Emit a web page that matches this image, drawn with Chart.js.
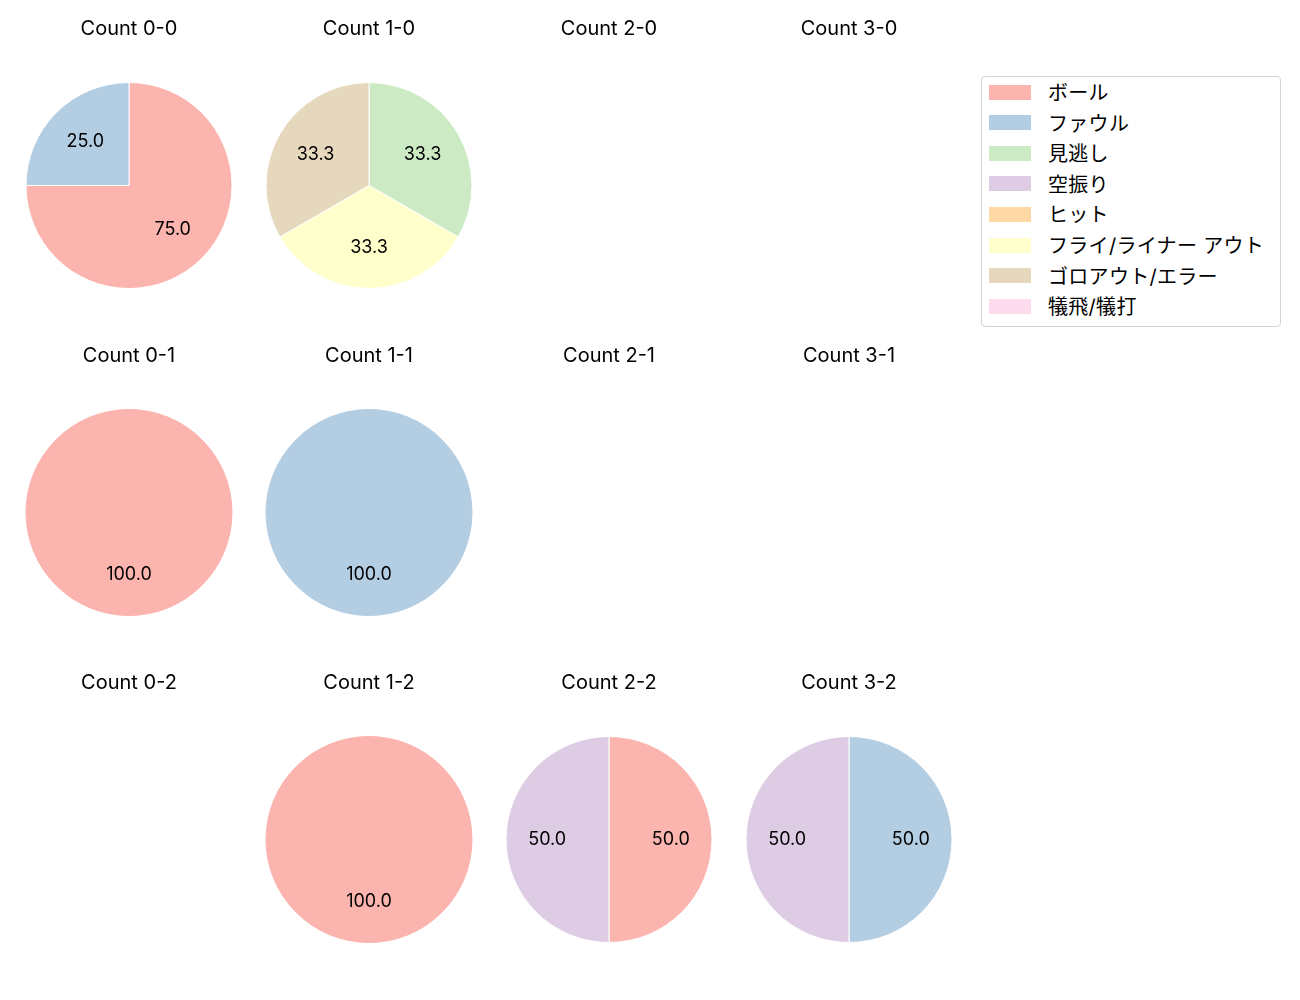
<!DOCTYPE html>
<html>
<head>
<meta charset="utf-8">
<script src="https://cdn.jsdelivr.net/npm/chart.js@4.4.0/dist/chart.umd.min.js"></script>
<style>
  html, body { margin: 0; padding: 0; background: #fff; }
  body { width: 1300px; height: 1000px; position: relative; overflow: hidden; font-family: Inter, "Noto Sans CJK JP", sans-serif; }
  .cell { position: absolute; width: 240px; height: 290px; }
  #legend { position: absolute; left: 981px; top: 76px; width: 298px; height: 249px; border: 1px solid #d3d3d3; border-radius: 4px; background: rgba(255,255,255,0.8); }
  .li { position: absolute; left: 0; height: 30px; width: 298px; }
  .sw { position: absolute; left: 7px; width: 42px; height: 15px; }
  .lt { position: absolute; left: 66px; font-size: 20px; color: #000; white-space: nowrap; line-height: 1; letter-spacing: 0.3px; }
</style>
</head>
<body>
<div id="legend"></div>
<script>
// Categories (legend order) and Pastel1 colours
const categories = ["ボール", "ファウル", "見逃し", "空振り", "ヒット", "フライ/ライナー アウト", "ゴロアウト/エラー", "犠飛/犠打"];
const colors = ["#fbb4ae", "#b3cde3", "#ccebc5", "#decbe4", "#fed9a6", "#ffffcc", "#e5d8bd", "#fddaec"];

// Counts per category for each ball-strike count (same order as categories)
const count00 = [3, 1, 0, 0, 0, 0, 0, 0];
const count10 = [0, 0, 1, 0, 0, 1, 1, 0];
const count20 = [0, 0, 0, 0, 0, 0, 0, 0];
const count30 = [0, 0, 0, 0, 0, 0, 0, 0];
const count01 = [1, 0, 0, 0, 0, 0, 0, 0];
const count11 = [0, 1, 0, 0, 0, 0, 0, 0];
const count21 = [0, 0, 0, 0, 0, 0, 0, 0];
const count31 = [0, 0, 0, 0, 0, 0, 0, 0];
const count02 = [0, 0, 0, 0, 0, 0, 0, 0];
const count12 = [1, 0, 0, 0, 0, 0, 0, 0];
const count22 = [1, 0, 0, 1, 0, 0, 0, 0];
const count32 = [0, 1, 0, 1, 0, 0, 0, 0];

const panelTitles = [
  ["Count 0-0", "Count 1-0", "Count 2-0", "Count 3-0"],
  ["Count 0-1", "Count 1-1", "Count 2-1", "Count 3-1"],
  ["Count 0-2", "Count 1-2", "Count 2-2", "Count 3-2"]
];
const panelData = [
  [count00, count10, count20, count30],
  [count01, count11, count21, count31],
  [count02, count12, count22, count32]
];

const FONT = 'Inter, "Noto Sans CJK JP", sans-serif';

const pctLabels = {
  id: 'pctLabels',
  afterDatasetsDraw(chart) {
    const ctx = chart.ctx;
    const ds = chart.data.datasets[0].data;
    const total = ds.reduce((a, b) => a + b, 0);
    if (!total) return;
    const meta = chart.getDatasetMeta(0);
    ctx.save();
    ctx.fillStyle = '#000';
    ctx.font = '18px ' + FONT;
    ctx.textAlign = 'center';
    ctx.textBaseline = 'middle';
    meta.data.forEach((arc, i) => {
      const v = ds[i];
      if (!v) return;
      const p = arc.getProps(['x', 'y', 'startAngle', 'endAngle', 'outerRadius'], true);
      const mid = (p.startAngle + p.endAngle) / 2;
      const r = p.outerRadius * 0.6;
      const x = p.x + Math.cos(mid) * r;
      const y = p.y + Math.sin(mid) * r;
      ctx.fillText((v / total * 100).toFixed(1), x, y);
    });
    ctx.restore();
  }
};

for (let r = 0; r < 3; r++) {
  for (let c = 0; c < 4; c++) {
    const vals = panelData[r][c];
    const nonZero = vals.filter(v => v > 0).length;
    const div = document.createElement('div');
    div.className = 'cell';
    div.style.left = (8.5 + 240 * c) + 'px';
    div.style.top = (1 + 327 * r) + 'px';
    const cv = document.createElement('canvas');
    cv.width = 240; cv.height = 290;
    div.appendChild(cv);
    document.body.appendChild(div);
    new Chart(cv, {
      type: 'pie',
      data: {
        labels: categories,
        datasets: [{
          data: vals,
          backgroundColor: colors,
          borderColor: nonZero > 1 ? '#ffffff' : colors,
          borderWidth: 1
        }]
      },
      options: {
        responsive: false,
        animation: false,
        events: [],
        layout: { padding: { left: 16.5, right: 16.5, top: 0, bottom: 2 } },
        plugins: {
          legend: { display: false },
          tooltip: { enabled: false },
          title: {
            display: true,
            text: panelTitles[r][c],
            color: '#000',
            font: { family: FONT, size: 20, weight: 'normal', lineHeight: 1.2 },
            padding: { top: 16, bottom: 41 }
          }
        }
      },
      plugins: [pctLabels]
    });
  }
}

// Legend
const lg = document.getElementById('legend');
categories.forEach((name, i) => {
  const li = document.createElement('div');
  li.className = 'li';
  const cy = 15 + 30.6 * i;
  const sw = document.createElement('div');
  sw.className = 'sw';
  sw.style.top = (cy - 7.5) + 'px';
  sw.style.background = colors[i];
  const t = document.createElement('div');
  t.className = 'lt';
  t.style.top = (cy - 9) + 'px';
  t.textContent = name;
  li.appendChild(sw); li.appendChild(t);
  lg.appendChild(li);
});
</script>
</body>
</html>
